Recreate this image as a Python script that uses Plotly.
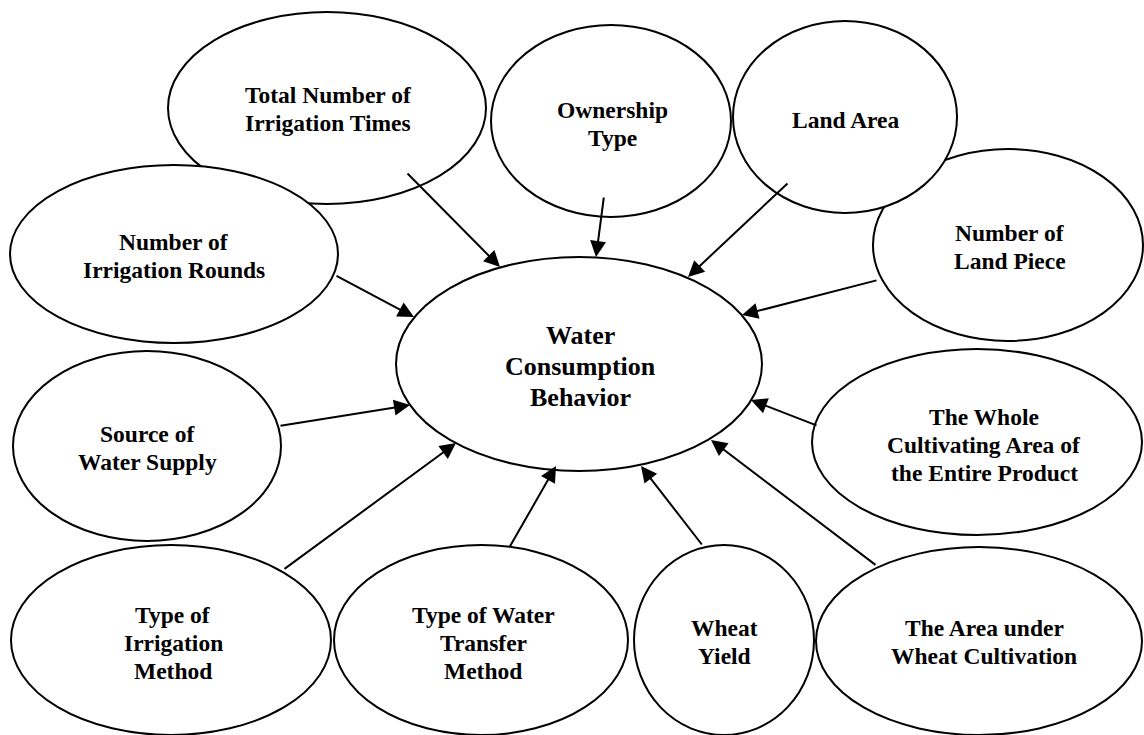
import plotly.graph_objects as go

# ---- Node data (ellipses) ----
node_labels = [
    "Total Number of<br>Irrigation Times",
    "Ownership<br>Type",
    "Number of<br>Land Piece",
    "Land Area",
    "Number of<br>Irrigation Rounds",
    "Source of<br>Water Supply",
    "Water<br>Consumption<br>Behavior",
    "The Whole<br>Cultivating Area of<br>the Entire Product",
    "Type of<br>Irrigation<br>Method",
    "Type of Water<br>Transfer<br>Method",
    "Wheat<br>Yield",
    "The Area under<br>Wheat Cultivation",
]
node_cx = [327, 611, 1008, 845, 174, 147, 579, 977, 171, 481, 724, 979]
node_cy = [108, 121, 245, 117, 254, 446, 364, 442, 640, 640, 640, 641]
node_rx = [159, 120, 135, 112, 164, 134, 183, 165, 160, 147, 90, 163]
node_ry = [96, 96, 96, 96, 89, 95, 107, 93, 95, 95, 95, 94]
label_dx = [1, 1, 2, 1, 0, 0, 1, 7, 2, 2, 0, 5]
label_dy = [1, 3, 2, 3, 2, 2, 2, 3, 3, 3, 2, 1]

# ---- Arrows (tail -> tip) ----
arrow_x0 = [406, 604, 789, 878, 335, 279, 818, 283, 509, 703, 877]
arrow_y0 = [172, 196, 182, 280, 275, 426, 426, 570, 548, 546, 566]
arrow_x1 = [500, 596, 688, 742, 414, 410, 751, 456, 556, 641, 711]
arrow_y1 = [267, 257, 277, 315, 317, 405, 400, 443, 466, 466, 440]

W, H = 1144, 735
CENTER = 6

fig = go.Figure()
fig.add_trace(go.Scatter(x=[0, W], y=[0, H], mode="markers",
                         marker=dict(opacity=0), hoverinfo="skip", showlegend=False))

shapes = []
for cx, cy, rx, ry in zip(node_cx, node_cy, node_rx, node_ry):
    shapes.append(dict(type="circle", xref="x", yref="y",
                       x0=cx - rx, x1=cx + rx, y0=cy - ry, y1=cy + ry,
                       line=dict(color="black", width=2), fillcolor="white",
                       layer="above"))

annotations = []
for x0, y0, x1, y1 in zip(arrow_x0, arrow_y0, arrow_x1, arrow_y1):
    annotations.append(dict(x=x1, y=y1, ax=x0, ay=y0, xref="x", yref="y",
                            axref="x", ayref="y", text="", showarrow=True,
                            arrowhead=2, arrowsize=1.6, arrowwidth=2,
                            arrowcolor="black", standoff=0, startstandoff=0))

for i, (lab, cx, cy) in enumerate(zip(node_labels, node_cx, node_cy)):
    lines = lab.split("<br>")
    n = len(lines)
    big = (i == CENTER)
    size = 26 if big else 23.5
    spacing = 31 if big else 28.3
    lx = cx + label_dx[i]
    ly = cy + label_dy[i]
    for j, line in enumerate(lines):
        annotations.append(dict(x=lx, y=ly + (j - (n - 1) / 2) * spacing,
                                xref="x", yref="y", text="<b>" + line + "</b>",
                                showarrow=False, xanchor="center", yanchor="middle",
                                font=dict(family="Liberation Serif", size=size,
                                          color="black")))

fig.update_layout(
    width=W, height=H, autosize=False,
    margin=dict(l=0, r=0, t=0, b=0),
    paper_bgcolor="white", plot_bgcolor="white",
    xaxis=dict(range=[0, W], visible=False, fixedrange=True),
    yaxis=dict(range=[H, 0], visible=False, fixedrange=True),
    shapes=shapes, annotations=annotations, showlegend=False,
)

fig.write_html("out.html", config={"displayModeBar": False},
               post_script="document.body.style.margin='0';document.body.style.overflow='hidden';")
